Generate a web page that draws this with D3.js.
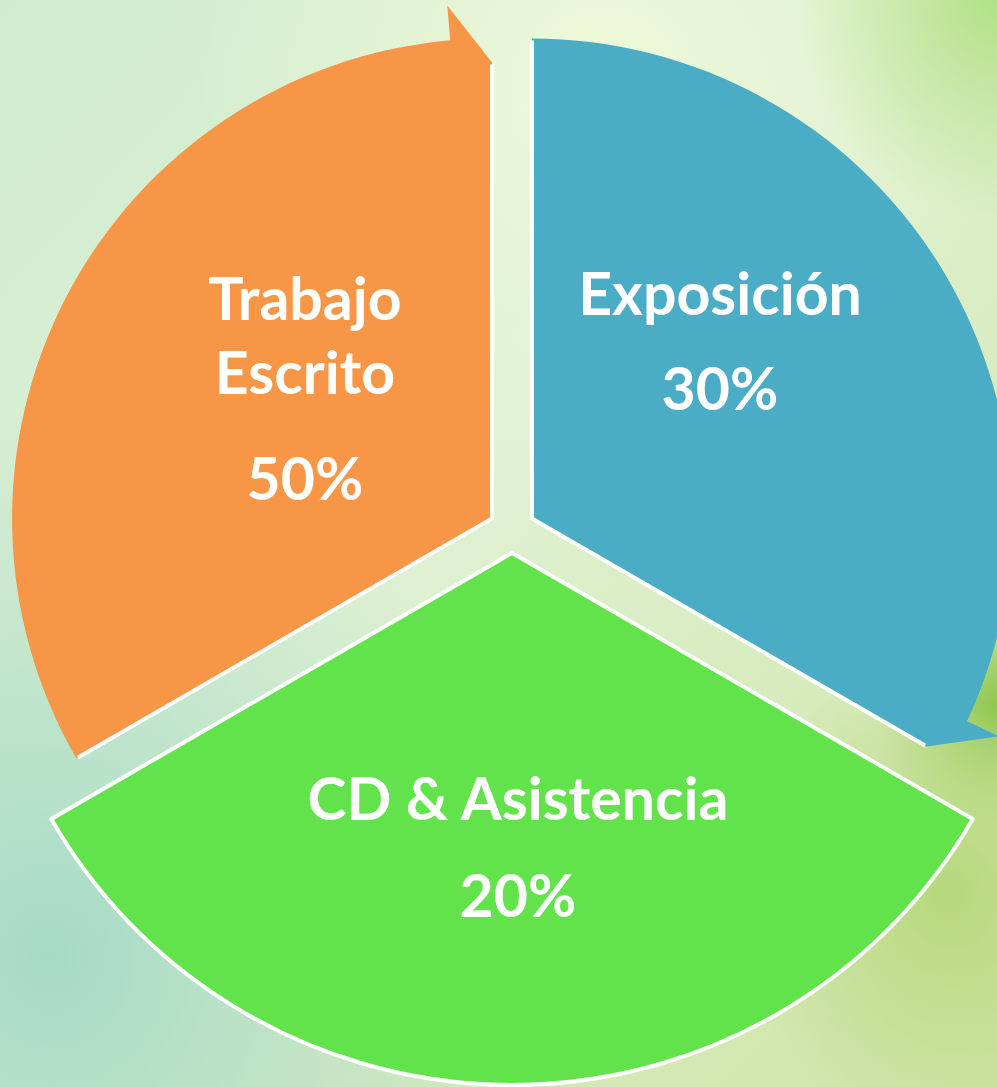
<!DOCTYPE html>
<html>
<head>
<meta charset="utf-8">
<script src="https://cdn.jsdelivr.net/npm/d3@7"></script>
<style>
  html, body { margin: 0; padding: 0; overflow: hidden; }
  svg { display: block; }
</style>
</head>
<body>
<div id="chart"></div>
<script>
const W = 997, H = 1087;

// data
const labels = [["Trabajo", "Escrito"], ["Exposición"], ["CD & Asistencia"]];
const percents = [50, 30, 20];
const colors = ["#f79646", "#4bacc6", "#62e34b"];

// layout of the cycle segments
const cx = 512, cy = 530;
const explode = [23, 23, 23];
const radius = [480, 480, 532];
const hasArrow = [true, true, false];
const labelPos = [
  {x: 305, y: [320, 394, 500]},
  {x: 720, y: [315, 410]},
  {x: 518, y: [820, 917]}
];

const svg = d3.select("#chart").append("svg")
  .attr("width", W).attr("height", H);

const defs = svg.append("defs");

const bg = defs.append("linearGradient").attr("id", "bg")
  .attr("x1", 0).attr("y1", 0).attr("x2", 1).attr("y2", 1);
bg.append("stop").attr("offset", "0%").attr("stop-color", "#d0ecd0");
bg.append("stop").attr("offset", "45%").attr("stop-color", "#dff1d2");
bg.append("stop").attr("offset", "100%").attr("stop-color", "#cfe4a6");

const bl = defs.append("radialGradient").attr("id", "bl")
  .attr("cx", 0.05).attr("cy", 0.88).attr("r", 0.5);
bl.append("stop").attr("offset", "0%").attr("stop-color", "#a6dac6").attr("stop-opacity", 1);
bl.append("stop").attr("offset", "100%").attr("stop-color", "#a6dac6").attr("stop-opacity", 0);

const tr = defs.append("radialGradient").attr("id", "tr")
  .attr("cx", 1).attr("cy", 0.0).attr("r", 0.2);
tr.append("stop").attr("offset", "0%").attr("stop-color", "#b2e287").attr("stop-opacity", 1);
tr.append("stop").attr("offset", "100%").attr("stop-color", "#b2e287").attr("stop-opacity", 0);

const tc = defs.append("radialGradient").attr("id", "tc")
  .attr("cx", 0.6).attr("cy", 0.08).attr("r", 0.4);
tc.append("stop").attr("offset", "0%").attr("stop-color", "#eef8d8").attr("stop-opacity", 1);
tc.append("stop").attr("offset", "100%").attr("stop-color", "#eef8d8").attr("stop-opacity", 0);

const mr = defs.append("radialGradient").attr("id", "mr")
  .attr("cx", 1).attr("cy", 0.65).attr("r", 0.12);
mr.append("stop").attr("offset", "0%").attr("stop-color", "#7fbf3a").attr("stop-opacity", 0.9);
mr.append("stop").attr("offset", "100%").attr("stop-color", "#9ccf5a").attr("stop-opacity", 0);

const br = defs.append("radialGradient").attr("id", "br")
  .attr("cx", 0.95).attr("cy", 0.82).attr("r", 0.22);
br.append("stop").attr("offset", "0%").attr("stop-color", "#b2d573").attr("stop-opacity", 0.85);
br.append("stop").attr("offset", "100%").attr("stop-color", "#b2d573").attr("stop-opacity", 0);

svg.append("rect").attr("width", W).attr("height", H).attr("fill", "url(#bg)");
["bl", "tc", "tr", "mr", "br"].forEach(id => {
  svg.append("rect").attr("width", W).attr("height", H).attr("fill", `url(#${id})`);
});

// equal segments, starting at the lower-left (like the SmartArt cycle)
const pie = d3.pie().value(() => 1).sort(null)
  .startAngle(-2 * Math.PI / 3).endAngle(4 * Math.PI / 3);
const arcs = pie(percents);

// clockwise-from-top angle -> point
const pt = (ox, oy, r, a) => [ox + r * Math.sin(a), oy - r * Math.cos(a)];

function segmentPath(d, i) {
  const mid = (d.startAngle + d.endAngle) / 2;
  const ox = cx + explode[i] * Math.sin(mid);
  const oy = cy - explode[i] * Math.cos(mid);
  const r = radius[i];
  const p = d3.path();
  const a0 = d.startAngle;
  const a1 = hasArrow[i] ? d.endAngle - 5 * Math.PI / 180 : d.endAngle;
  p.moveTo(ox, oy);
  const s = pt(ox, oy, r, a0);
  p.lineTo(s[0], s[1]);
  p.arc(ox, oy, r, a0 - Math.PI / 2, a1 - Math.PI / 2, false);
  if (hasArrow[i]) {
    const flag = pt(ox, oy, r + 35, a1);
    const tip = pt(ox, oy, r - 24, d.endAngle);
    p.lineTo(flag[0], flag[1]);
    p.lineTo(tip[0], tip[1]);
  }
  p.closePath();
  return {d: p.toString(), ox, oy, r};
}

const segs = svg.append("g").selectAll("g.seg")
  .data(arcs)
  .join("g")
  .attr("class", "seg");

segs.each(function(d, i) {
  const g = d3.select(this);
  const sp = segmentPath(d, i);
  g.append("path")
    .attr("d", sp.d)
    .attr("fill", colors[i]);
  // white rim: whole outline for the plain segment, only the cut edges for the arrows
  if (hasArrow[i]) {
    const s = pt(sp.ox, sp.oy, sp.r - 2, d.startAngle);
    const tip = pt(sp.ox, sp.oy, sp.r - 26, d.endAngle);
    g.append("path")
      .attr("d", d3.line()([s, [sp.ox, sp.oy], tip]))
      .attr("fill", "none")
      .attr("stroke", "#fff")
      .attr("stroke-width", 4)
      .attr("stroke-linejoin", "round");
  } else {
    g.append("path")
      .attr("d", sp.d)
      .attr("fill", "none")
      .attr("stroke", "#fff")
      .attr("stroke-width", 4)
      .attr("stroke-linejoin", "round");
  }
});

// labels
const txt = svg.append("g")
  .attr("font-family", "Lato, 'Open Sans', sans-serif")
  .attr("font-weight", "bold")
  .attr("font-size", 59)
  .attr("fill", "#fff")
  .attr("text-anchor", "middle");

labels.forEach((lines, i) => {
  const pos = labelPos[i];
  lines.concat([percents[i] + "%"]).forEach((t, j) => {
    txt.append("text")
      .attr("x", pos.x)
      .attr("y", pos.y[j])
      .text(t);
  });
});
</script>
</body>
</html>
